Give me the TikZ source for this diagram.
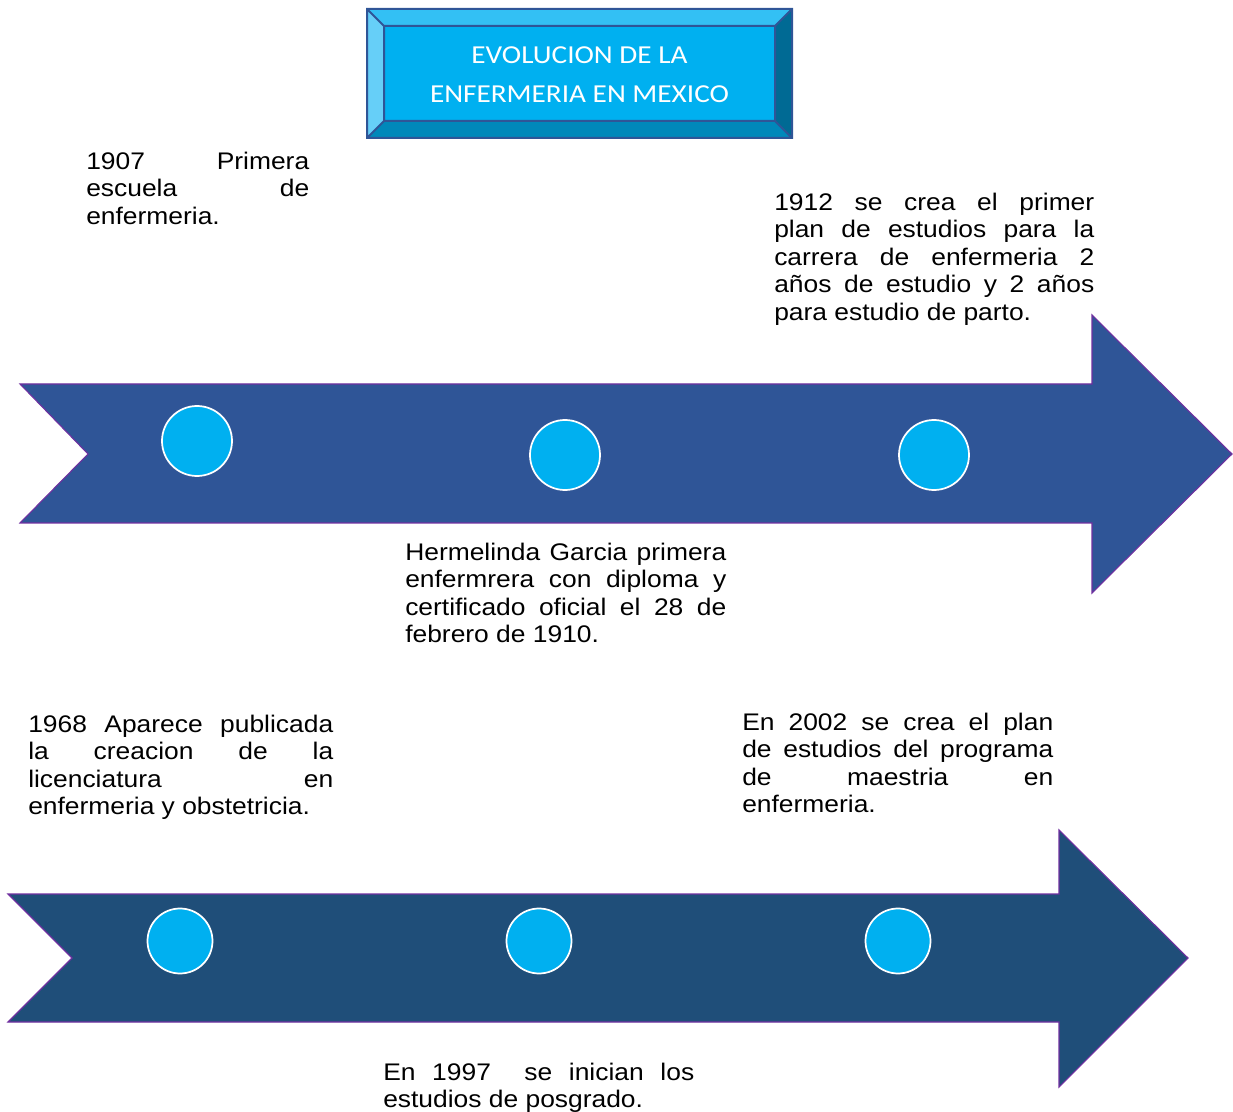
\documentclass[tikz,border=0pt]{standalone}
\usepackage{fontspec}
\setmainfont{Liberation Sans}[FakeStretch=1.1]
\newfontfamily\titlefont{Carlito}[FakeStretch=1.13]
\definecolor{flechauno}{HTML}{2F5597}
\definecolor{flechados}{HTML}{1F4E79}
\definecolor{borde}{HTML}{7030A0}
\definecolor{cian}{HTML}{00B0F0}
\definecolor{marco}{HTML}{2F5597}
\definecolor{bisarriba}{HTML}{33C0F4}
\definecolor{bisizq}{HTML}{66CFF8}
\definecolor{bisder}{HTML}{006A94}
\definecolor{bisabajo}{HTML}{0088BA}
\newcommand\evfont{\fontsize{18}{20.6}\selectfont}
\newcommand\linea[1]{\makebox[\hsize][s]{#1}\\}
\tikzset{
  flecha/.style={draw=borde, line width=0.8pt, line join=miter},
  hito/.style={circle, fill=cian, draw=white, line width=1.3pt, inner sep=0pt},
  evento/.style={anchor=north west, inner sep=0pt, align=justify, font=\evfont}
}
\begin{document}
\begin{tikzpicture}[x=0.75pt, y=-0.75pt]
                \useasboundingbox (0,0) rectangle (1233,1112);

                % titulo
                \fill[bisarriba] (367,9) -- (792,9) -- (775,26) -- (384,26) -- cycle;
                \fill[bisizq] (367,9) -- (384,26) -- (384,121) -- (367,138) -- cycle;
                \fill[bisder] (792,9) -- (775,26) -- (775,121) -- (792,138) -- cycle;
                \fill[bisabajo] (367,138) -- (384,121) -- (775,121) -- (792,138) -- cycle;
                \fill[cian] (384,26) rectangle (775,121);
                \draw[marco, line width=1.5pt] (367,9) rectangle (792,138) (384,26) rectangle (775,121)
                    (367,9) -- (384,26) (792,9) -- (775,26) (367,138) -- (384,121) (792,138) -- (775,121);
                \node[text=white, align=center, inner sep=0pt, font=\titlefont\fontsize{19.4}{29.25}\selectfont]
                    (titulo) at (579.5,74.5) {EVOLUCION DE LA\\ENFERMERIA EN MEXICO};

                % flechas
                \filldraw[flecha, fill=flechauno] (20,384) -- (1092,384) -- (1092,315) -- (1232,454)
                    -- (1092,593) -- (1092,523) -- (20,523) -- (88,454) -- cycle;
                \filldraw[flecha, fill=flechados] (8,894) -- (1059,894) -- (1059,830) -- (1188,958)
                    -- (1059,1087) -- (1059,1022) -- (8,1022) -- (72,958) -- cycle;

                \foreach \x/\y/\n in {197/441/a, 565/455/b, 934/455/c} {
                        \node[hito, minimum size=70*0.75pt] (hito-\n) at (\x,\y) {};
                    }
                \foreach \x/\n in {180/d, 539/e, 898/f} {
                        \node[hito, minimum size=65*0.75pt] (hito-\n) at (\x,941) {};
                    }

                % eventos
                \node[evento, text width=223*0.75pt] (ev1907) at (86,149.8)
                    {\linea{\strut 1907 Primera}\linea{escuela de}enfermeria.};
                \node[evento, text width=320*0.75pt] (ev1912) at (774,190.8)
                    {\linea{\strut 1912 se crea el primer}\linea{plan de estudios para la}\linea{carrera de enfermeria 2}\linea{años de estudio y 2 años}para estudio de parto.};
                \node[evento, text width=321*0.75pt] (ev1910) at (405,540.8)
                    {\linea{\strut Hermelinda Garcia primera}\linea{enfermrera con diploma y}\linea{certificado oficial el 28 de}febrero de 1910.};
                \node[evento, text width=305*0.75pt] (ev1968) at (28,712.8)
                    {\linea{\strut 1968 Aparece publicada}\linea{la creacion de la}\linea{licenciatura en}enfermeria y obstetricia.};
                \node[evento, text width=311*0.75pt] (ev2002) at (742,710.8)
                    {\linea{\strut En 2002 se crea el plan}\linea{de estudios del programa}\linea{de maestria en}enfermeria.};
                \node[evento, text width=311*0.75pt] (ev1997) at (383,1060.8)
                    {\linea{\strut En 1997\ \ se inician los}estudios de posgrado.};
            \end{tikzpicture}
\end{document}
